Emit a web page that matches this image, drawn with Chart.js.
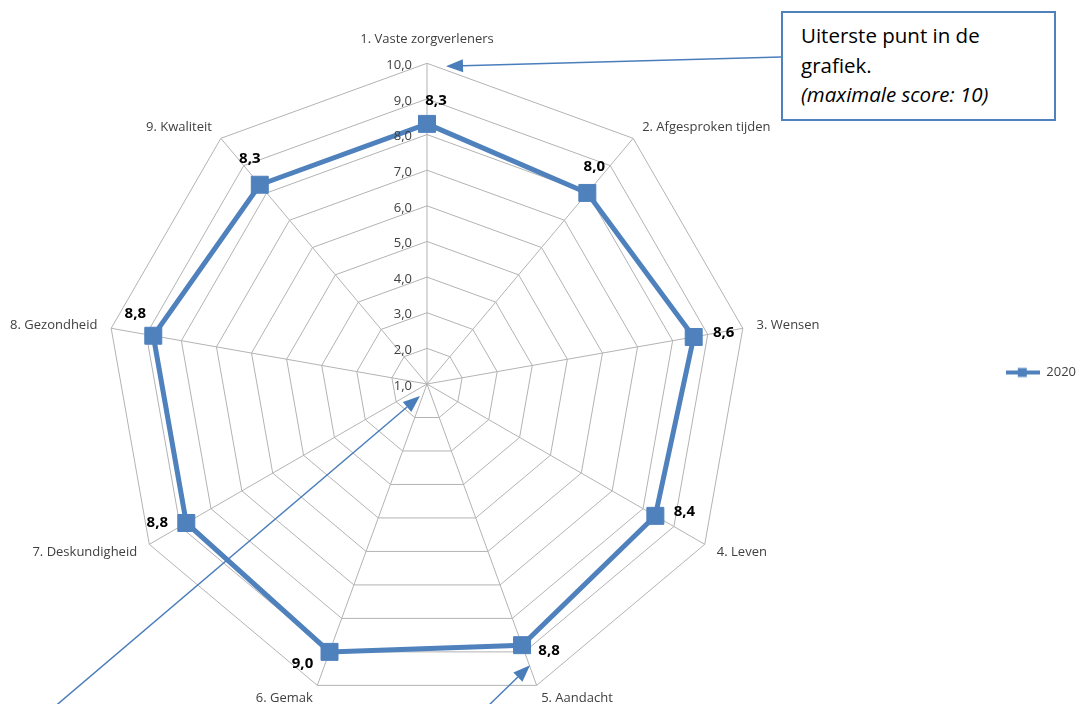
<!DOCTYPE html>
<html>
<head>
<meta charset="utf-8">
<script src="https://cdn.jsdelivr.net/npm/chart.js@4/dist/chart.umd.min.js"></script>
<style>
  html, body { margin: 0; padding: 0; background: #fff; width: 1079px; height: 704px; overflow: hidden; position: relative; }
  #wrap { position: absolute; left: -140px; top: 0; width: 1226px; height: 732px; }
  #note {
    position: absolute; left: 781px; top: 11px; width: 275px; height: 110px;
    box-sizing: border-box; border: 2px solid #4F81BD; background: #fff;
    padding: 8px 0 0 18px; font-family: 'Open Sans', sans-serif; font-size: 20.5px;
    line-height: 29.5px; color: #000;
  }
  #note i { font-style: italic; }
</style>
</head>
<body>
<div id="wrap"><canvas id="radar"></canvas></div>
<div id="note">Uiterste punt in de<br>grafiek.<br><i>(maximale score: 10)</i></div>
<script>
// chart data
var categories = ["1. Vaste zorgverleners", "2. Afgesproken tijden", "3. Wensen", "4. Leven",
                  "5. Aandacht", "6. Gemak", "7. Deskundigheid", "8. Gezondheid", "9. Kwaliteit"];
var seriesName = "2020";
var scores = [8.3, 8.0, 8.6, 8.4, 8.8, 9.0, 8.8, 8.8, 8.3];
var scaleMin = 1, scaleMax = 10, scaleStep = 1;

// where each value label sits relative to its marker
var labelShift = [[9, -23], [7, -26], [30, -4], [29, -4], [27, 6], [-27, 12], [-29, 0], [-18, -22], [-10, -26]];

var blue = "#4F81BD";
var fmt = function(v) { return v.toFixed(1).replace(".", ","); };

// legend icon: line with square marker
var icon = document.createElement("canvas");
icon.width = 34; icon.height = 12;
var ic = icon.getContext("2d");
ic.fillStyle = blue;
ic.fillRect(0, 4, 34, 4);
ic.fillRect(12, 1.5, 9, 9);

function arrow(ctx, x1, y1, x2, y2) {
  var a = Math.atan2(y2 - y1, x2 - x1), len = 17, half = 6.5;
  var bx = x2 - len * Math.cos(a), by = y2 - len * Math.sin(a);
  ctx.beginPath();
  ctx.moveTo(x1, y1);
  ctx.lineTo(bx, by);
  ctx.stroke();
  ctx.beginPath();
  ctx.moveTo(x2, y2);
  ctx.lineTo(bx + half * Math.sin(a), by - half * Math.cos(a));
  ctx.lineTo(bx - half * Math.sin(a), by + half * Math.cos(a));
  ctx.closePath();
  ctx.fill();
}

var extras = {
  id: "extras",
  afterDatasetsDraw: function(chart) {
    var r = chart.scales.r, ctx = chart.ctx;
    ctx.save();
    // tick labels, left of the vertical axis
    ctx.font = "13px 'Open Sans'";
    ctx.fillStyle = "#404040";
    ctx.textAlign = "right";
    ctx.textBaseline = "middle";
    r.ticks.forEach(function(t) {
      var d = r.getDistanceFromCenterForValue(t.value);
      ctx.fillText(fmt(t.value), r.xCenter - 15, r.yCenter - d + 2);
    });
    // value labels
    ctx.font = "bold 15px 'Open Sans'";
    ctx.fillStyle = "#000";
    ctx.textAlign = "center";
    chart.getDatasetMeta(0).data.forEach(function(p, i) {
      ctx.fillText(fmt(scores[i]), p.x + labelShift[i][0], p.y + labelShift[i][1]);
    });
    ctx.restore();
  },
  afterDraw: function(chart) {
    var r = chart.scales.r, ctx = chart.ctx;
    var pts = chart.getDatasetMeta(0).data;
    ctx.save();
    ctx.strokeStyle = "#4A7EBB";
    ctx.fillStyle = "#4A7EBB";
    ctx.lineWidth = 1.5;
    // callout to the outermost point
    var top = r.getPointPositionForValue(0, scaleMax);
    var boxLeft = document.getElementById("note").offsetLeft + 140;
    arrow(ctx, boxLeft, 57, top.x + 19, top.y + 3);
    // arrow to the centre
    var cx = r.xCenter - 7, cy = r.yCenter + 12;
    arrow(ctx, cx - 1.1 * 361, cy + 1.1 * 307, cx, cy);
    // arrow to 5. Aandacht
    var p5 = pts[4];
    arrow(ctx, p5.x + 8 - 1.7 * 38, p5.y + 20 + 1.7 * 37, p5.x + 8, p5.y + 20);
    ctx.restore();
  }
};

var ctx = document.getElementById("radar").getContext("2d");
new Chart(ctx, {
  type: "radar",
  data: {
    labels: categories,
    datasets: [{
      label: seriesName,
      data: scores,
      borderColor: blue,
      backgroundColor: blue,
      borderWidth: 5,
      fill: false,
      pointStyle: "rect",
      pointRadius: 12,
      pointBorderWidth: 1,
      pointBackgroundColor: blue,
      pointBorderColor: blue
    }]
  },
  options: {
    responsive: true,
    maintainAspectRatio: false,
    animation: false,
    layout: { padding: { top: 27, bottom: 14 } },
    scales: {
      r: {
        min: scaleMin,
        max: scaleMax,
        ticks: { stepSize: scaleStep, display: false },
        grid: { color: "#b3b3b3", lineWidth: 1 },
        angleLines: { color: "#b3b3b3", lineWidth: 1 },
        pointLabels: {
          // tiny line height so the labels sit level with their spoke ends
          font: { family: "'Open Sans'", size: 13, lineHeight: 0.1 },
          color: "#404040",
          padding: function(c) {
            if (c.index === 0) return 23;
            if (c.index === 4 || c.index === 5) return 13;
            return 14;
          }
        }
      }
    },
    plugins: {
      legend: {
        position: "right",
        labels: {
          usePointStyle: true,
          pointStyle: icon,
          pointStyleWidth: 34,
          font: { family: "'Open Sans'", size: 13 },
          color: "#404040"
        }
      },
      tooltip: { enabled: false }
    }
  },
  plugins: [extras]
});
</script>
</body>
</html>
